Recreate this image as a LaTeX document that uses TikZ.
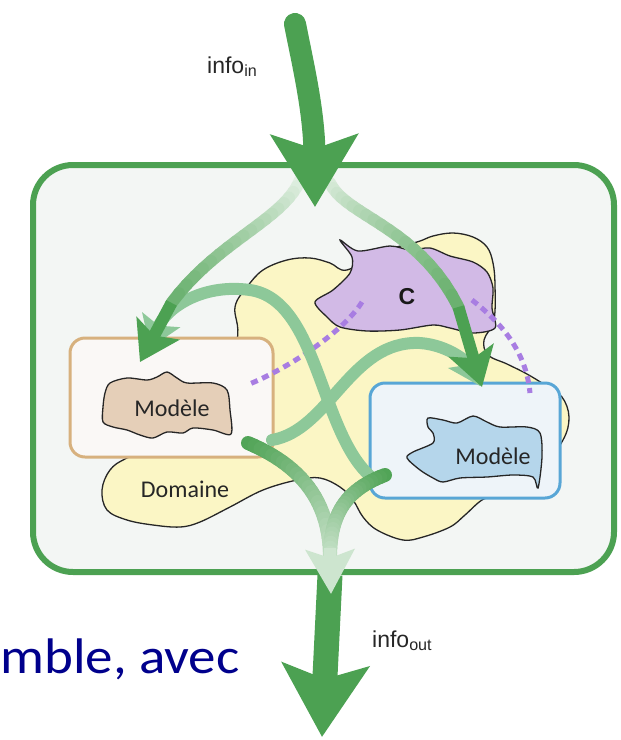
\documentclass[tikz,border=0pt]{standalone}
\usepackage{fontspec}
\setmainfont{Carlito}
\newfontfamily\arialfont{Liberation Sans}
\usetikzlibrary{arrows.meta}

\definecolor{flowgreen}{RGB}{76,161,82}
\definecolor{palegreen}{RGB}{141,200,153}
\definecolor{framefill}{RGB}{243,246,244}
\definecolor{domyellow}{RGB}{251,246,197}
\definecolor{cpurple}{RGB}{210,186,230}
\definecolor{dashpurple}{RGB}{168,125,226}
\definecolor{tanblob}{RGB}{229,207,184}
\definecolor{tanedge}{RGB}{215,177,126}
\definecolor{tanfill}{RGB}{250,248,246}
\definecolor{blueblob}{RGB}{181,214,235}
\definecolor{blueedge}{RGB}{88,166,214}
\definecolor{bluefill}{RGB}{238,244,249}
\definecolor{slidenavy}{RGB}{0,0,140}

\tikzset{
  blob/.style={draw=black!85,line width=1.3pt},
  modelbox/.style={rounded corners=15pt,line width=3pt,inner sep=0pt},
  blobtext/.style={font=\fontsize{24}{28}\selectfont,text=black!85,inner sep=0pt},
  infotext/.style={font=\arialfont\fontsize{23}{27}\selectfont,text=black!85,inner sep=0pt,anchor=base west},
  cdash/.style={draw=dashpurple,line width=5pt,dash pattern=on 7pt off 5pt},
  lightflow/.style={draw=palegreen,line width=12pt,line cap=round},
  smallhead/.style={-{Stealth[length=30pt,width=40pt,inset=6pt]}},
  bighead/.style={-{Stealth[length=72pt,width=86pt,inset=14pt]}}
}

%% fading stroke along one curve: start, c1, c2, end, width, start pct, end pct, last piece
\newcommand{\fadeflow}[8]{%
  \path #1 .. controls #2 and #3 .. #4
    \foreach \k [evaluate=\k as \t using \k/24] in {0,...,24} {coordinate[pos=\t] (f\k)};
  \foreach \k [remember=\k as \j (initially 0),evaluate=\k as \pct using {#6+(#7-#6)*\k/24}] in {1,...,#8}
    {\draw[line width=#5,line cap=round,draw=flowgreen!\pct!white] (f\j) -- (f\k);}%
}

\begin{document}
\begin{tikzpicture}[x=1pt,y=-1pt]
        \useasboundingbox (0,0) rectangle (621,740);
        %% Frame
        \draw[flowgreen,line width=6pt,fill=framefill,rounded corners=40pt] (33,165) rectangle (614,572);
        %% Domain and C
        \draw[blob,fill=domyellow] plot[smooth cycle,tension=0.6] coordinates {
          (237,340) (235,307) (247,287) (263,270) (287,260) (310,258) (330,263) (347,270)
          (380,252) (417,242) (433,236) (453,233) (473,237) (487,247) (493,263) (495,285)
          (494,320) (484,340) (488,355) (507,364) (527,374) (545,385) (562,397) (569,417)
          (563,440) (540,470) (500,493) (482,500) (465,515) (450,527) (423,537) (403,540)
          (377,530) (363,517) (353,500) (340,487) (320,478) (297,480) (263,490) (230,507)
          (200,522) (180,527) (153,525) (127,520) (107,510) (102,490) (110,470) (127,458)
          (170,440) (215,400)};
        \draw[blob,fill=cpurple] plot[smooth cycle,tension=0.5] coordinates {
          (340,240) (358,251) (390,246) (410,250) (430,248) (450,256) (473,262) (487,272)
          (493,288) (492,308) (495,328) (473,333) (450,328) (433,325) (400,330) (367,331)
          (340,327) (327,317) (315,302) (333,290) (350,273) (352,257)};
        %% Boxes
        \node[modelbox,draw=tanedge,fill=tanfill,minimum width=203pt,minimum height=119pt] (leftbox) at (171.5,397.5) {};
        \node[modelbox,draw=blueedge,fill=bluefill,minimum width=190pt,minimum height=115pt] (rightbox) at (465,440.5) {};
        \draw[blob,fill=tanblob] plot[smooth cycle,tension=0.5] coordinates {
          (110,383) (127,378) (147,380) (157,377) (167,372) (177,378) (187,383) (213,383)
          (227,390) (230,410) (231,434) (213,430) (193,428) (183,433) (167,432) (153,438)
          (140,435) (127,430) (113,427) (103,422) (103,407) (105,393)};
        \draw[blob,fill=blueblob] plot[smooth cycle,tension=0.5] coordinates {
          (428,418) (443,420) (457,423) (473,416) (487,422) (500,427) (527,427) (540,433)
          (542,457) (538,488) (533,477) (513,475) (487,477) (460,478) (443,482) (433,478)
          (420,470) (407,458) (413,452) (433,443) (433,433) (428,427)};
        %% Labels
        \node[blobtext] (lefttxt) at (172,408) {Modèle};
        \node[blobtext] (righttxt) at (493,456) {Modèle};
        \node[blobtext] (domtxt) at (185,489) {Domaine};
        \node[font=\arialfont\bfseries\fontsize{23}{27}\selectfont,text=black!90,inner sep=0pt] (ctxt) at (407,297) {C};
        \node[infotext] (infoin) at (207,73) {info\textsubscript{in}};
        \node[infotext] (infoout) at (372,647) {info\textsubscript{out}};
        \node[anchor=base west,inner sep=0pt,text=slidenavy,font=\fontsize{50}{60}\selectfont] (slidetxt) at (0,673) {\scalebox{1.1}[1]{mble, avec}};
        %% Links to C
        \draw[cdash] (362,302) .. controls (345,330) and (290,368) .. (247,385);
        \draw[cdash] (472,300) .. controls (500,322) and (526,350) .. (530,393);
        %% Exchanges between models
        \draw[lightflow,smallhead] (375,480) .. controls (320,440) and (320,300) .. (250,290)
          .. controls (200,283) and (165,310) .. (150,348);
        \draw[lightflow,smallhead] (272,440) .. controls (330,430) and (350,340) .. (420,343)
          .. controls (448,345) and (468,362) .. (480,386);
        %% Input split
        \fadeflow{(300,180)}{(280,230)}{(180,250)}{(140,362)}{12pt}{12}{100}{19}
        \draw[line width=12pt,draw=flowgreen,-{Stealth[length=38pt,width=48pt,inset=8pt]}] (f19) -- (f24);
        \fadeflow{(330,183)}{(350,225)}{(460,230)}{(482,387)}{12pt}{18}{100}{19}
        \draw[line width=12pt,draw=flowgreen,-{Stealth[length=38pt,width=46pt,inset=8pt]}] (f19) -- (f24);
        \draw[flowgreen,line width=22pt,line cap=round,bighead] (295,24) .. controls (302,60) and (314,110) .. (315,207);
        %% Output
        \draw[flowgreen,line width=25pt,bighead] (330,575) -- (322,737);
        \fadeflow{(248,443)}{(300,465)}{(330,500)}{(330,558)}{14pt}{100}{35}{24}
        \fadeflow{(385,475)}{(345,490)}{(330,515)}{(330,558)}{14pt}{100}{35}{24}
        \draw[line width=12pt,draw=flowgreen!28!white,-{Stealth[length=44pt,width=48pt,inset=8pt]}] (330,548) -- (331,594);
    \end{tikzpicture}
\end{document}
